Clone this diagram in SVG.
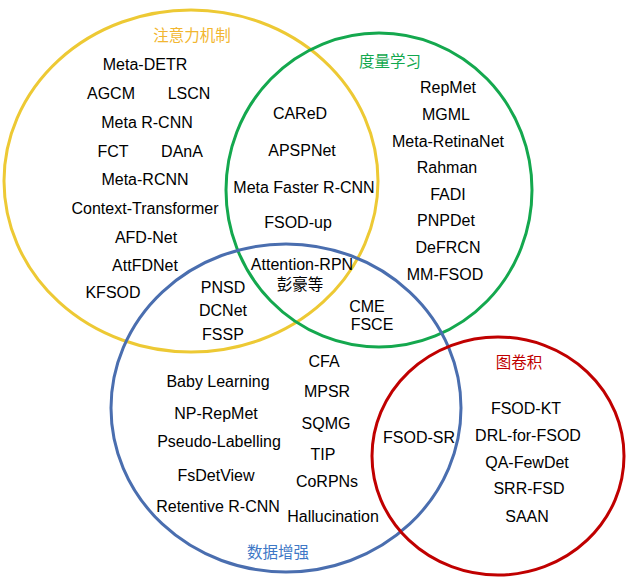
<svg xmlns="http://www.w3.org/2000/svg" width="632" height="581" viewBox="0 0 632 581">
<style>
.c{fill:none;stroke-width:3}
text{font-family:"Liberation Sans",Arial,"Noto Sans CJK SC",sans-serif;font-size:16px;fill:#000;text-anchor:middle}
.t{font-family:"Noto Sans CJK SC","Liberation Sans",sans-serif;font-size:15.5px}
</style>
<rect width="632" height="581" fill="#fff"/>
<g id="connectors"></g>
<g id="set-attention">
<ellipse class="c" cx="191" cy="181" rx="187" ry="171" stroke="#EDC934"/>
<text class="t" x="192" y="41" fill="#F2B630" style="fill:#F2B630">注意力机制</text>
</g>
<g id="set-metric">
<ellipse class="c" cx="379" cy="190" rx="153" ry="157" stroke="#14A84E"/>
<text class="t" x="390" y="67" style="fill:#12A84E">度量学习</text>
</g>
<g id="set-augment">
<ellipse class="c" cx="286" cy="408" rx="175" ry="164" stroke="#4A6EAF"/>
<text class="t" x="278" y="558" style="fill:#3E78C6">数据增强</text>
</g>
<g id="set-graph">
<ellipse class="c" cx="498" cy="456" rx="126" ry="119" stroke="#C00000"/>
<text class="t" x="519" y="368" style="fill:#C00000">图卷积</text>
</g>
<g id="labels">
<text x="145" y="70">Meta-DETR</text>
<text x="111" y="99">AGCM</text>
<text x="189" y="99">LSCN</text>
<text x="147" y="128">Meta R-CNN</text>
<text x="113" y="157">FCT</text>
<text x="182" y="157">DAnA</text>
<text x="145" y="185">Meta-RCNN</text>
<text x="145" y="214">Context-Transformer</text>
<text x="146" y="243">AFD-Net</text>
<text x="145" y="271">AttFDNet</text>
<text x="113" y="298">KFSOD</text>
<text x="223" y="293">PNSD</text>
<text x="223" y="316">DCNet</text>
<text x="223" y="340">FSSP</text>
<text x="448" y="93">RepMet</text>
<text x="446" y="120">MGML</text>
<text x="448" y="147">Meta-RetinaNet</text>
<text x="447" y="173">Rahman</text>
<text x="448" y="200">FADI</text>
<text x="446" y="226">PNPDet</text>
<text x="448" y="253">DeFRCN</text>
<text x="445" y="280">MM-FSOD</text>
<text x="300" y="119">CAReD</text>
<text x="302" y="156">APSPNet</text>
<text x="304" y="193">Meta Faster R-CNN</text>
<text x="298" y="228">FSOD-up</text>
<text x="302" y="270">Attention-RPN</text>
<text class="t" x="300" y="290">彭豪等</text>
<text x="367" y="312">CME</text>
<text x="372" y="330">FSCE</text>
<text x="324" y="367">CFA</text>
<text x="218" y="387">Baby Learning</text>
<text x="327" y="397">MPSR</text>
<text x="216" y="419">NP-RepMet</text>
<text x="326" y="429">SQMG</text>
<text x="219" y="447">Pseudo-Labelling</text>
<text x="323" y="460">TIP</text>
<text x="216" y="481">FsDetView</text>
<text x="327" y="487">CoRPNs</text>
<text x="218" y="512">Retentive R-CNN</text>
<text x="333" y="522">Hallucination</text>
<text x="419" y="443">FSOD-SR</text>
<text x="526" y="414">FSOD-KT</text>
<text x="528" y="441">DRL-for-FSOD</text>
<text x="527" y="468">QA-FewDet</text>
<text x="529" y="494">SRR-FSD</text>
<text x="527" y="522">SAAN</text>
</g>
</svg>
